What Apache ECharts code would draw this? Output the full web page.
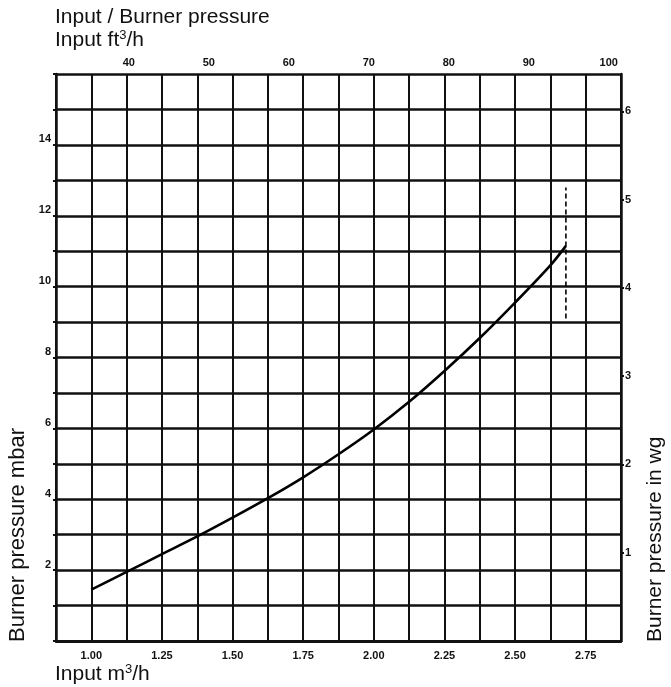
<!DOCTYPE html>
<html>
<head>
<meta charset="utf-8">
<script src="https://cdn.jsdelivr.net/npm/echarts@6/dist/echarts.min.js"></script>
<style>
  html, body { margin: 0; padding: 0; background: #fff; }
  #chart { width: 671px; height: 687px; }
</style>
</head>
<body>
<div id="chart"></div>
<script>
// Burner input (m³/h) against burner pressure (mbar)
const inputM3h     = [1.00, 1.125, 1.25, 1.375, 1.50, 1.625, 1.75, 1.875, 2.00, 2.125, 2.25, 2.375, 2.50, 2.625, 2.68];
const pressureMbar = [1.45, 1.95, 2.45, 2.95, 3.48, 4.03, 4.62, 5.27, 5.97, 6.75, 7.62, 8.55, 9.55, 10.6, 11.15];

// Maximum input marker (dashed vertical)
const maxInputM3h = 2.68;
const maxMarkerMbar = [9.1, 12.8];

// Tick labels
const m3hLabels  = [1.00, 1.25, 1.50, 1.75, 2.00, 2.25, 2.50, 2.75];
const ft3hLabels = [40, 50, 60, 70, 80, 90, 100];
const mbarLabels = [2, 4, 6, 8, 10, 12, 14];
const inwgLabels = [1, 2, 3, 4, 5, 6];

const FT3_PER_M3 = 35.3147;
const MBAR_PER_INWG = 2.4909;
const X_MIN = 0.875, X_MAX = 2.875, Y_MIN = 0, Y_MAX = 16;

const FONT = '"Liberation Sans", Arial, sans-serif';
const INK = '#111';

const curve = inputM3h.map((x, i) => [x, pressureMbar[i]]);
const marker = maxMarkerMbar.map(y => [maxInputM3h, y]);

const labelStyle = { color: INK, fontFamily: FONT, fontSize: 11, fontWeight: 'bold' };

function unitText(base) {
  return {
    text: '{a|' + base + '}{s|3}{a|/h}', fill: INK,
    rich: {
      a: { fontFamily: FONT, fontSize: 21, fill: INK, verticalAlign: 'bottom' },
      s: { fontFamily: FONT, fontSize: 13, fill: INK, verticalAlign: 'top', padding: [0, 0, 9, 0] }
    }
  };
}

const chart = echarts.init(document.getElementById('chart'), null, { renderer: 'canvas' });

chart.setOption({
  backgroundColor: '#fff',
  animation: false,
  grid: { left: 56, right: 50, top: 74, bottom: 46, containLabel: false },
  xAxis: [
    {
      type: 'value', position: 'bottom',
      min: X_MIN, max: X_MAX, interval: 0.125,
      axisLine: { show: true, lineStyle: { color: INK, width: 2.5 } },
      axisTick: { show: false },
      splitLine: { show: true, lineStyle: { color: INK, width: 2 } },
      axisLabel: Object.assign({
        customValues: m3hLabels, margin: 9,
        formatter: v => v.toFixed(2)
      }, labelStyle)
    },
    {
      type: 'value', position: 'top',
      min: X_MIN * FT3_PER_M3, max: X_MAX * FT3_PER_M3,
      axisLine: { show: true, lineStyle: { color: INK, width: 2.5 } },
      axisTick: { show: false },
      splitLine: { show: false },
      axisLabel: Object.assign({ customValues: ft3hLabels, margin: 6 }, labelStyle)
    }
  ],
  yAxis: [
    {
      type: 'value', position: 'left',
      min: Y_MIN, max: Y_MAX, interval: 1,
      axisLine: { show: true, lineStyle: { color: INK, width: 2.5 } },
      axisTick: { show: true, length: 3, lineStyle: { color: INK, width: 2 } },
      splitLine: { show: true, lineStyle: { color: INK, width: 2.5 } },
      axisLabel: Object.assign({ customValues: mbarLabels, margin: 5, verticalAlign: 'bottom' }, labelStyle)
    },
    {
      type: 'value', position: 'right',
      min: Y_MIN / MBAR_PER_INWG, max: Y_MAX / MBAR_PER_INWG,
      axisLine: { show: true, lineStyle: { color: INK, width: 2.5 } },
      axisTick: { show: true, customValues: inwgLabels, length: 3, lineStyle: { color: INK, width: 2 } },
      splitLine: { show: false },
      axisLabel: Object.assign({ customValues: inwgLabels, margin: 4 }, labelStyle)
    }
  ],
  series: [
    {
      name: 'Burner pressure', type: 'line',
      xAxisIndex: 0, yAxisIndex: 0,
      data: curve, smooth: 0.3, showSymbol: false, silent: true,
      lineStyle: { color: '#000', width: 2.6 }
    },
    {
      name: 'Max input', type: 'line',
      xAxisIndex: 0, yAxisIndex: 0,
      data: marker, showSymbol: false, silent: true,
      lineStyle: { color: '#000', width: 1.6, type: [5, 3] }
    }
  ],
  graphic: [
    {
      type: 'text', left: 55, top: 7,
      style: { text: 'Input / Burner pressure', fill: INK, font: '21px ' + FONT }
    },
    { type: 'text', left: 55, top: 29, style: unitText('Input ft') },
    { type: 'text', left: 55, top: 663, style: unitText('Input m') },
    {
      type: 'text', x: 18, y: 642, rotation: Math.PI / 2,
      style: { text: 'Burner pressure mbar', fill: INK, font: '22px ' + FONT, align: 'left', verticalAlign: 'middle' }
    },
    {
      type: 'text', x: 655, y: 642, rotation: Math.PI / 2,
      style: { text: 'Burner pressure in wg', fill: INK, font: '21px ' + FONT, align: 'left', verticalAlign: 'middle' }
    }
  ]
});
</script>
</body>
</html>
